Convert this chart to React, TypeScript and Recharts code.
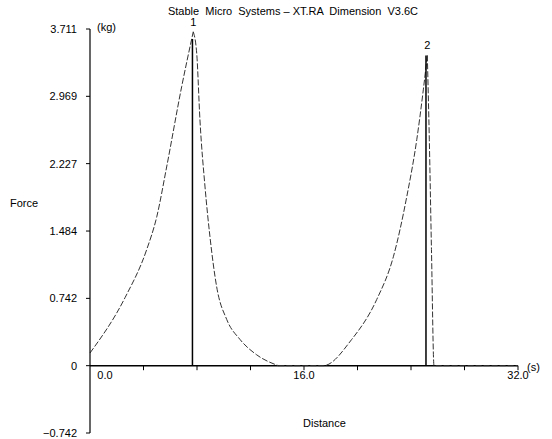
import { LineChart, Line, XAxis, YAxis, ReferenceLine, ReferenceDot } from 'recharts'

// trace (distance in s, force in kg), one array pair per stroke
const rise1X = [0, 2.62, 4.24, 4.99, 5.73, 6.86, 7.72]
const rise1Y = [0.14, 0.75, 1.28, 1.64, 2.19, 3.08, 3.68]
const fall1X = [7.72, 7.98, 8.22, 8.6, 8.97, 9.47, 10.22, 11.21, 12.46, 14.08]
const fall1Y = [3.68, 3.44, 2.71, 1.97, 1.42, 0.87, 0.51, 0.29, 0.12, 0]
const rise2X = [14.08, 17.44, 19.57, 21.44, 22.68, 23.68, 24.43, 24.92, 25.22]
const rise2Y = [0, 0, 0.29, 0.73, 1.2, 1.86, 2.49, 3.04, 3.42]
const fall2X = [25.22, 25.37, 25.53, 25.72, 32]
const fall2Y = [3.42, 2.49, 1.28, 0, 0]

// solid vertical drops at each peak
const dropX = [7.66, 25.12]
const dropTop = [3.6, 3.42]

const peakX = [7.72, 25.22]
const peakY = [3.68, 3.42]
const peakNames = ['1', '2']

const yTicks = [-0.742, 0, 0.742, 1.484, 2.227, 2.969, 3.711]
const xTickMarks = [4, 8, 12, 16, 20, 24, 28, 32]
const xLabels = [0, 16, 32]

const toPts = (xs: number[], ys: number[]) => xs.map((x, i) => ({ x, y: ys[i] }))
const strokes = [toPts(rise1X, rise1Y), toPts(fall1X, fall1Y), toPts(rise2X, rise2Y), toPts(fall2X, fall2Y)]
const drops = dropX.map((x, i) => [
  { x, y: dropTop[i] },
  { x, y: 0 },
])

const font = '"Liberation Sans", Arial, sans-serif'

const fmtY = (v: number) => (v === 0 ? '0' : v < 0 ? '\u2212' + Math.abs(v).toFixed(3) : v.toFixed(3))

function Txt({ x, y, children, center }: { x: number; y: number; children: string; center?: boolean }) {
  return (
    <span
      style={{
        position: 'absolute',
        left: x,
        top: y,
        transform: center ? 'translateX(-50%)' : undefined,
        fontFamily: font,
        fontSize: 11,
        color: '#000',
        whiteSpace: 'pre',
        lineHeight: '12px',
      }}
    >
      {children}
    </span>
  )
}

export default function App() {
  return (
    <div style={{ position: 'absolute', left: 0, top: 0, width: 552, height: 439, background: '#fff' }}>
      <LineChart width={552} height={439} margin={{ top: 29, right: 34, bottom: 6, left: 0 }}>
        <XAxis type="number" dataKey="x" domain={[0, 32]} hide allowDuplicatedCategory={false} />
        <YAxis
          type="number"
          domain={[-0.742, 3.711]}
          ticks={yTicks}
          tickFormatter={fmtY}
          width={90}
          tickSize={4}
          tickMargin={9}
          axisLine={{ stroke: '#000', strokeWidth: 1.2 }}
          tickLine={{ stroke: '#000' }}
          tick={{ fill: '#000', fontSize: 11, fontFamily: font }}
          interval={0}
        />
        <ReferenceLine y={0} stroke="#000" strokeWidth={1.5} />
        {xTickMarks.map((t) => (
          <ReferenceLine
            key={'t' + t}
            segment={[
              { x: t, y: 0 },
              { x: t, y: -0.05 },
            ]}
            stroke="#000"
          />
        ))}
        {xLabels.map((v) => (
          <ReferenceDot
            key={'l' + v}
            x={v}
            y={0}
            r={0}
            stroke="none"
            fill="none"
            label={{
              value: v.toFixed(1),
              position: 'bottom',
              offset: 6,
              fill: '#000',
              fontSize: 11,
              fontFamily: font,
              dx: v === 0 ? 15 : 0,
            }}
          />
        ))}
        {strokes.map((s, i) => (
          <Line
            key={'s' + i}
            data={s}
            dataKey="y"
            type="monotone"
            stroke="#333"
            strokeWidth={1}
            strokeDasharray="6 2"
            dot={false}
            isAnimationActive={false}
          />
        ))}
        {drops.map((d, i) => (
          <Line
            key={'d' + i}
            data={d}
            dataKey="y"
            type="linear"
            stroke="#000"
            strokeWidth={1.5}
            dot={false}
            isAnimationActive={false}
          />
        ))}
        {peakX.map((x, i) => (
          <ReferenceDot
            key={'p' + i}
            x={x}
            y={peakY[i]}
            r={0}
            stroke="none"
            fill="none"
            label={{ value: peakNames[i], position: 'top', offset: 6, fill: '#000', fontSize: 11, fontFamily: font }}
          />
        ))}
      </LineChart>
      <Txt x={293} y={5} center>
        {'Stable  Micro  Systems \u2013 XT.RA  Dimension  V3.6C'}
      </Txt>
      <Txt x={97} y={21}>(kg)</Txt>
      <Txt x={10} y={197}>Force</Txt>
      <Txt x={303} y={417}>Distance</Txt>
      <Txt x={527} y={361}>(s)</Txt>
    </div>
  )
}
